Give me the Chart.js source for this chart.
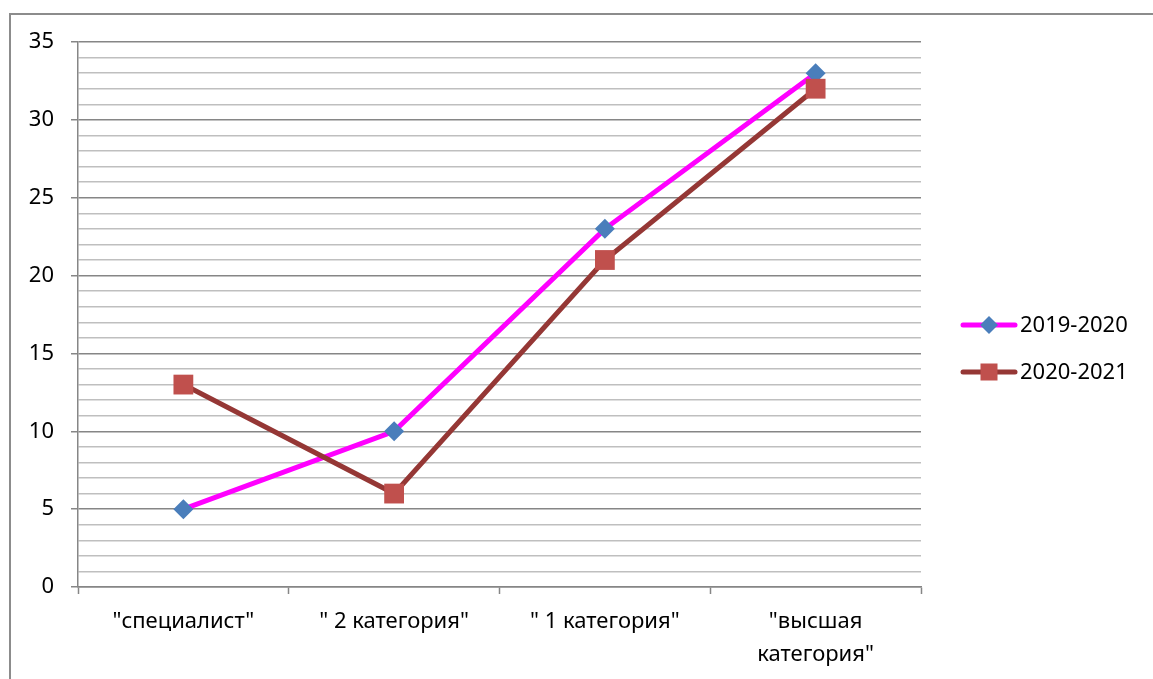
<!DOCTYPE html>
<html>
<head>
<meta charset="utf-8">
<script src="https://cdn.jsdelivr.net/npm/chart.js@4/dist/chart.umd.min.js"></script>
<style>
  html, body { margin: 0; padding: 0; background: #fff; overflow: hidden; }
  #wrap { position: relative; width: 1153px; height: 679px; }
  #frame { position: absolute; left: 9px; top: 13px; width: 1300px; height: 800px;
           border-left: 2px solid #8c8c8c; border-top: 2px solid #8c8c8c; }
  canvas { position: absolute; left: 0; top: 0; }
</style>
</head>
<body>
<div id="wrap">
  <div id="frame"></div>
  <canvas id="lineChart" width="1153" height="679"></canvas>
</div>
<script>
    const categories = ['"специалист"', '" 2 категория"', '" 1 категория"', ['"высшая', 'категория"']];
    const seriesNames = ['2019-2020', '2020-2021'];
    const values2019 = [5, 10, 23, 33];
    const values2020 = [13, 6, 21, 32];

    const FONT = '"Noto Sans", "Liberation Sans", sans-serif';

    // legend drawn by hand: line with marker in the middle, like the office chart
    const sideLegend = {
        id: 'sideLegend',
        afterDraw(chart) {
            const ctx = chart.ctx;
            let y = 325;
            chart.data.datasets.forEach(function (ds) {
                ctx.save();
                ctx.strokeStyle = ds.borderColor;
                ctx.lineWidth = 5;
                ctx.lineCap = 'round';
                ctx.beginPath();
                ctx.moveTo(963, y);
                ctx.lineTo(1015, y);
                ctx.stroke();
                ctx.fillStyle = ds.pointBackgroundColor;
                if (ds.pointStyle === 'rectRot') {
                    ctx.beginPath();
                    ctx.moveTo(989 - 9, y);
                    ctx.lineTo(989, y - 9);
                    ctx.lineTo(989 + 9, y);
                    ctx.lineTo(989, y + 9);
                    ctx.closePath();
                    ctx.fill();
                } else {
                    ctx.fillRect(989 - 8.5, y - 8.5, 17, 17);
                }
                ctx.fillStyle = '#000';
                ctx.font = '22px ' + FONT;
                ctx.textBaseline = 'middle';
                ctx.textAlign = 'left';
                ctx.fillText(ds.label, 1020, y + 1);
                ctx.restore();
                y += 47;
            });
        }
    };

    new Chart(document.getElementById('lineChart'), {
        type: 'line',
        data: {
            labels: categories,
            datasets: [
                {
                    label: seriesNames[0],
                    data: values2019,
                    borderColor: '#ff00ff',
                    borderWidth: 5,
                    pointStyle: 'rectRot',
                    pointRadius: 10,
                    pointHoverRadius: 10,
                    pointBackgroundColor: '#4a7ebb',
                    pointBorderColor: '#4a7ebb',
                    pointBorderWidth: 0,
                    tension: 0,
                    fill: false,
                    order: 1
                },
                {
                    label: seriesNames[1],
                    data: values2020,
                    borderColor: '#953735',
                    borderWidth: 5,
                    pointStyle: 'rect',
                    pointRadius: 14,
                    pointHoverRadius: 14,
                    pointBackgroundColor: '#c0504d',
                    pointBorderColor: '#c0504d',
                    pointBorderWidth: 0,
                    tension: 0,
                    fill: false,
                    order: 0
                }
            ]
        },
        options: {
            responsive: false,
            animation: false,
            layout: { padding: { top: 42, right: 232, left: 0, bottom: 0 } },
            plugins: {
                legend: { display: false },
                tooltip: { enabled: false }
            },
            scales: {
                x: {
                    offset: true,
                    grid: {
                        offset: true,
                        drawOnChartArea: false,
                        drawTicks: true,
                        tickLength: 7,
                        tickColor: '#868686',
                        tickWidth: 1.5
                    },
                    border: { color: '#868686', width: 1.5 },
                    ticks: {
                        color: '#000',
                        font: { family: FONT, size: 22, lineHeight: 1.5 },
                        padding: 11,
                        maxRotation: 0,
                        autoSkip: false
                    },
                    afterFit: function (scale) { scale.height = 92; }
                },
                y: {
                    min: 0,
                    max: 35,
                    grid: {
                        color: function (c) { return c.tick.value % 5 === 0 ? '#868686' : '#bfbfbf'; },
                        tickColor: function (c) { return c.tick.value % 5 === 0 ? '#868686' : 'rgba(0,0,0,0)'; },
                        lineWidth: 1.5,
                        tickLength: 7
                    },
                    border: { color: '#868686', width: 1.5 },
                    ticks: {
                        stepSize: 1,
                        autoSkip: false,
                        color: '#000',
                        padding: 17,
                        font: { family: FONT, size: 22 },
                        callback: function (v) { return v % 5 === 0 ? v : ''; }
                    },
                    afterFit: function (scale) { scale.width = 78; }
                }
            }
        },
        plugins: [sideLegend]
    });
</script>
</body>
</html>
